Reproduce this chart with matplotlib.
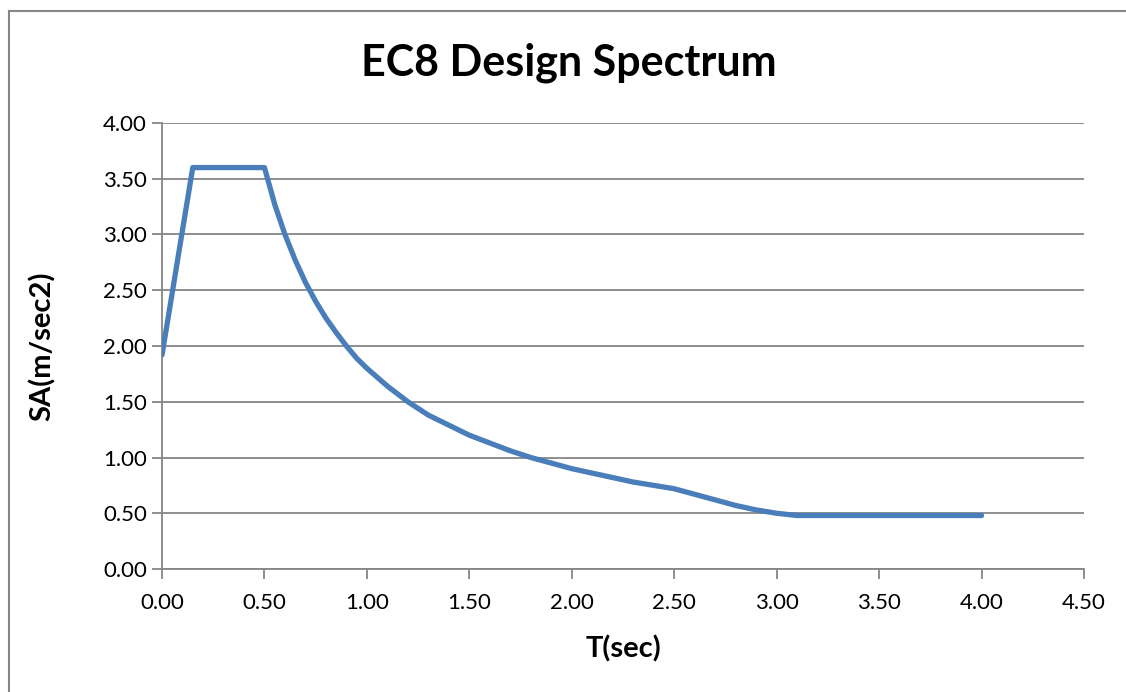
import matplotlib
matplotlib.use('Agg')
import matplotlib.pyplot as plt
from matplotlib.lines import Line2D

plt.rcParams['font.family'] = ['Lato', 'DejaVu Sans']

# period T (sec) and spectral acceleration SA (m/sec2)
period = [0.00, 0.05, 0.10, 0.15, 0.20, 0.25, 0.30, 0.35, 0.40, 0.45, 0.50,
          0.55, 0.60, 0.65, 0.70, 0.75, 0.80, 0.85, 0.90, 0.95, 1.00,
          1.10, 1.20, 1.30, 1.40, 1.50, 1.60, 1.70, 1.80, 1.90, 2.00,
          2.10, 2.20, 2.30, 2.40, 2.50, 2.60, 2.70, 2.80, 2.90, 3.00,
          3.10, 3.20, 3.40, 3.60, 3.80, 4.00]
sa = [1.92, 2.48, 3.04, 3.60, 3.60, 3.60, 3.60, 3.60, 3.60, 3.60, 3.60,
      3.27, 3.00, 2.77, 2.57, 2.40, 2.25, 2.12, 2.00, 1.89, 1.80,
      1.64, 1.50, 1.38, 1.29, 1.20, 1.13, 1.06, 1.00, 0.95, 0.90,
      0.86, 0.82, 0.78, 0.75, 0.72, 0.67, 0.62, 0.57, 0.53, 0.50,
      0.48, 0.48, 0.48, 0.48, 0.48, 0.48]

x_ticks = [0.0, 0.5, 1.0, 1.5, 2.0, 2.5, 3.0, 3.5, 4.0, 4.5]
y_ticks = [0.0, 0.5, 1.0, 1.5, 2.0, 2.5, 3.0, 3.5, 4.0]

grey = '#868686'

fig = plt.figure(figsize=(11.26, 6.92), dpi=100)
ax = fig.add_axes([0.1439, 0.1777, 0.8188, 0.6446])

ax.plot(period, sa, color='#4A7EBB', linewidth=3.8, solid_joinstyle='round',
        solid_capstyle='round', zorder=3)

ax.set_xlim(0, 4.5)
ax.set_ylim(0, 4.0)
ax.set_xticks(x_ticks)
ax.set_yticks(y_ticks)
ax.set_xticklabels(['%.2f' % v for v in x_ticks])
ax.set_yticklabels(['%.2f' % v for v in y_ticks])
ax.grid(axis='y', color=grey, linewidth=1.3)
ax.set_axisbelow(True)

for side in ['top', 'right']:
    ax.spines[side].set_visible(False)
for side in ['left', 'bottom']:
    ax.spines[side].set_color(grey)
    ax.spines[side].set_linewidth(1.3)

ax.tick_params(axis='both', colors=grey, labelcolor='black', labelsize=16,
               width=1.3, length=7, direction='out')
ax.tick_params(axis='y', pad=4)
ax.tick_params(axis='x', pad=10)

fig.text(0.505, 0.909, 'EC8 Design Spectrum', fontsize=31, fontweight='bold',
         ha='center', va='center')
ax.set_xlabel('T(sec)', fontsize=21, fontweight='bold', labelpad=16)
ax.set_ylabel('SA(m/sec2)', fontsize=21, fontweight='bold', labelpad=34)

# chart area border (left and top edges fall inside the image)
fig.add_artist(Line2D([0.008, 0.008], [0.0, 0.984], transform=fig.transFigure,
                      color=grey, linewidth=1.5))
fig.add_artist(Line2D([0.008, 1.0], [0.984, 0.984], transform=fig.transFigure,
                      color=grey, linewidth=1.5))

fig.savefig('out.png', dpi=100)
